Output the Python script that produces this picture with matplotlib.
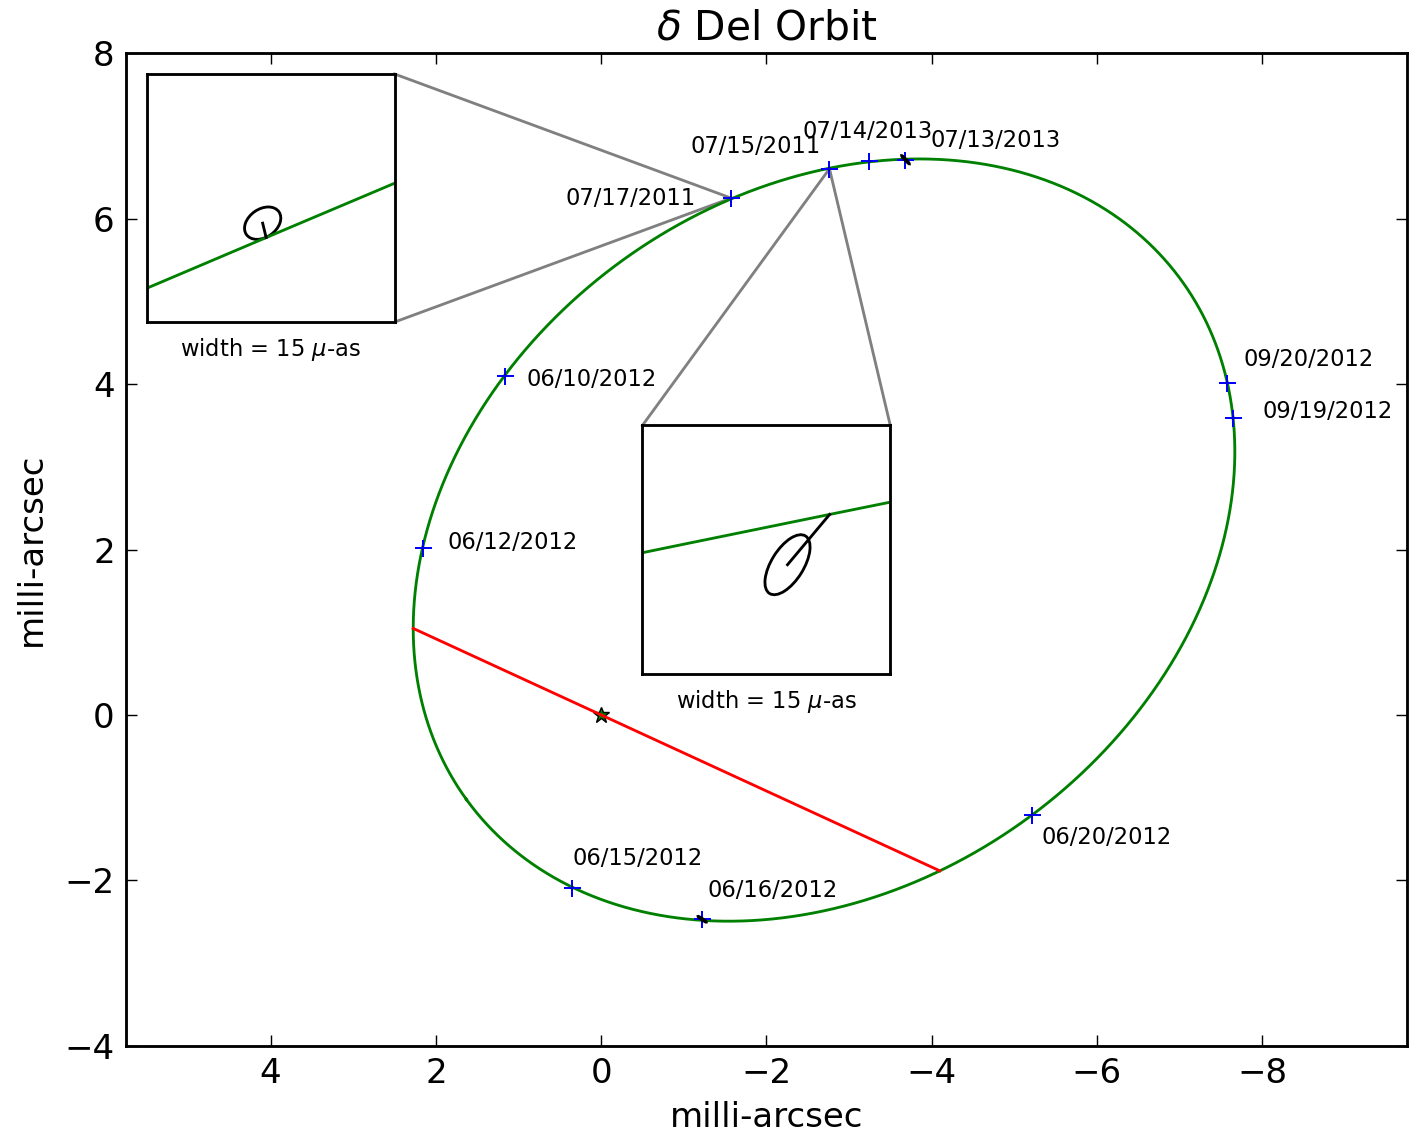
import numpy as np
import matplotlib
matplotlib.use("Agg")
import matplotlib.pyplot as plt
from matplotlib.patches import Ellipse

plt.rcParams.update({
    "font.family": ["DejaVu Sans"],
    "font.size": 12,
    "mathtext.fontset": "dejavusans",
    "axes.linewidth": 1.0,
    "lines.linewidth": 1.0,
    "xtick.direction": "in", "ytick.direction": "in",
    "xtick.top": True, "ytick.right": True,
    "xtick.major.size": 4, "ytick.major.size": 4,
    "xtick.major.width": 0.5, "ytick.major.width": 0.5,
    "xtick.major.pad": 4, "ytick.major.pad": 4,
})

# ---------------- data (milli-arcsec) ----------------
dates = ['07/17/2011', '07/15/2011', '07/14/2013', '07/13/2013', '09/20/2012',
         '09/19/2012', '06/10/2012', '06/12/2012', '06/15/2012', '06/16/2012',
         '06/20/2012']
ra_mas = [-1.574, -2.764, -3.248, -3.684, -7.579, -7.651, 1.167, 2.155, 0.351, -1.223, -5.218]
dec_mas = [6.249, 6.604, 6.692, 6.713, 4.012, 3.589, 4.100, 2.016, -2.096, -2.471, -1.209]

# measurement error ellipses at true scale (mas, deg)
err_w_mas = [0.003, 0.004, 0.003, 0.135, 0.003, 0.003, 0.003, 0.003, 0.003, 0.12, 0.003]
err_h_mas = [0.002, 0.002, 0.002, 0.015, 0.002, 0.002, 0.002, 0.002, 0.002, 0.015, 0.002]
err_ang_deg = [145, 122, 140, 47, 140, 140, 140, 140, 140, 35, 140]

# projected orbit (mas, deg) and line of nodes through the primary
orbit_center = (-2.698, 2.114)
orbit_a = 5.345
orbit_b = 4.170
orbit_angle = -35.93
node_angle = 24.7

# zoomed insets (micro-arcsec offsets from inset centre)
inset_target = [0, 1]
inset_model_off_uas = [(0.27, -2.39), (-3.83, 2.12)]
inset_meas_off_uas = [(0.48, -1.52), (-1.28, -0.92)]
inset_err_w_uas = [2.4, 4.1]
inset_err_h_uas = [1.7, 1.95]
inset_err_ang_deg = [145, 122]
inset_width_uas = 15.0

# ---------------- layout ----------------
XLIM = (5.75, -9.75)
YLIM = (-4.0, 8.0)
label_off_px = [(-165.7, -6.7), (-139, 15.7), (-67.3, 23.4), (25, 12.7), (16, 17.3),
                (29, 0), (21.7, -10), (24, -1), (0.6, 23.3), (5, 22.6), (9.3, -29.3)]
inset_box = [(2.5, 5.5, 4.75, 7.75), (-3.5, -0.5, 0.5, 3.5)]
inset_connect = ['right', 'top']

DPI = 204
fig = plt.figure(figsize=(1416 / DPI, 1135 / DPI), dpi=DPI, facecolor='white')
ax = fig.add_axes([126 / 1416, 1 - 1045.7 / 1135, (1406.7 - 126) / 1416, (1045.7 - 53.3) / 1135])

th = np.radians(orbit_angle)
u = np.array([np.cos(th), np.sin(th)])
v = np.array([-np.sin(th), np.cos(th)])
C = np.array(orbit_center)


def orbit_xy(t):
    t = np.asarray(t)
    return (C[:, None] + orbit_a * np.cos(t) * u[:, None] + orbit_b * np.sin(t) * v[:, None])


t_all = np.linspace(0, 2 * np.pi, 4001)
oxy = orbit_xy(t_all)
ax.plot(oxy[0], oxy[1], color='g', lw=1.0, zorder=2)

# line of nodes: intersections of line through origin with the orbit
phi = np.radians(node_angle)
w = np.array([np.cos(phi), np.sin(phi)])
al, be = u @ w, v @ w
c1, c2 = u @ C, v @ C
qa = al ** 2 / orbit_a ** 2 + be ** 2 / orbit_b ** 2
qb = -2 * (al * c1 / orbit_a ** 2 + be * c2 / orbit_b ** 2)
qc = c1 ** 2 / orbit_a ** 2 + c2 ** 2 / orbit_b ** 2 - 1
s_roots = np.sort(np.real(np.roots([qa, qb, qc])))
ax.plot(0, 0, marker='*', color='g', mec='k', mew=0.5, ms=6, zorder=2.2, ls='none')
ax.plot(s_roots * w[0], s_roots * w[1], color='r', lw=1.0, zorder=2.3)

ax.plot(ra_mas, dec_mas, 'b+', ms=6, mew=0.7, zorder=3)
for x, y, ew, eh, ea in zip(ra_mas, dec_mas, err_w_mas, err_h_mas, err_ang_deg):
    ax.add_patch(Ellipse((x, y), ew, eh, angle=ea, fill=False, ec='k', lw=1.0, zorder=3.5))

for d, x, y, (dx, dy) in zip(dates, ra_mas, dec_mas, label_off_px):
    ax.annotate(d, (x, y), xytext=(dx, dy), textcoords='offset pixels',
                ha='left', va='baseline', fontsize=8)

ax.set_xlim(*XLIM)
ax.set_ylim(*YLIM)
ax.set_xticks([4, 2, 0, -2, -4, -6, -8])
ax.set_yticks([-4, -2, 0, 2, 4, 6, 8])
ax.set_xlabel('milli-arcsec', labelpad=4)
ax.set_ylabel('milli-arcsec', labelpad=6)
ax.set_title(r'$\delta$ Del Orbit', fontsize=14.4, pad=5)

half = inset_width_uas / 2
for k, idx in enumerate(inset_target):
    bx0, bx1, by0, by1 = inset_box[k]
    fx = (XLIM[0] - bx1) / (XLIM[0] - XLIM[1])
    fw = (bx1 - bx0) / (XLIM[0] - XLIM[1])
    fy = (by0 - YLIM[0]) / (YLIM[1] - YLIM[0])
    fh = (by1 - by0) / (YLIM[1] - YLIM[0])
    px, py = ra_mas[idx], dec_mas[idx]
    if inset_connect[k] == 'right':
        corners = [(bx0, by1), (bx0, by0)]
    else:
        corners = [(bx1, by1), (bx0, by1)]
    for cx, cy in corners:
        ax.plot([cx, px], [cy, py], color='0.5', lw=1.0, zorder=1.5)

    axi = ax.inset_axes([fx, fy, fw, fh])
    axi.set_facecolor('white')
    # nearest orbit point to the marker
    d2 = (oxy[0] - px) ** 2 + (oxy[1] - py) ** 2
    t0 = t_all[np.argmin(d2)]
    tl = t0 + np.linspace(-0.02, 0.02, 40001)
    loc = orbit_xy(tl)
    d2 = (loc[0] - px) ** 2 + (loc[1] - py) ** 2
    q = loc[:, np.argmin(d2)]
    mx, my = inset_model_off_uas[k]
    centre = q - np.array([mx, my]) * 1e-3
    lx = (loc[0] - centre[0]) * 1e3
    ly = (loc[1] - centre[1]) * 1e3
    keep = (np.abs(lx) < 3 * half) & (np.abs(ly) < 3 * half)
    axi.plot(lx[keep], ly[keep], color='g', lw=1.0)
    ex, ey = inset_meas_off_uas[k]
    axi.add_patch(Ellipse((ex, ey), inset_err_w_uas[k], inset_err_h_uas[k],
                          angle=inset_err_ang_deg[k], fill=False, ec='k', lw=1.0))
    axi.plot([ex, mx], [ey, my], color='k', lw=1.0)
    axi.set_xlim(half, -half)
    axi.set_ylim(-half, half)
    axi.set_xticks([])
    axi.set_yticks([])
    axi.set_xlabel(r'width = %d $\mu$-as' % inset_width_uas, fontsize=8, labelpad=5)

fig.savefig('out.png', dpi=DPI, facecolor='white')
